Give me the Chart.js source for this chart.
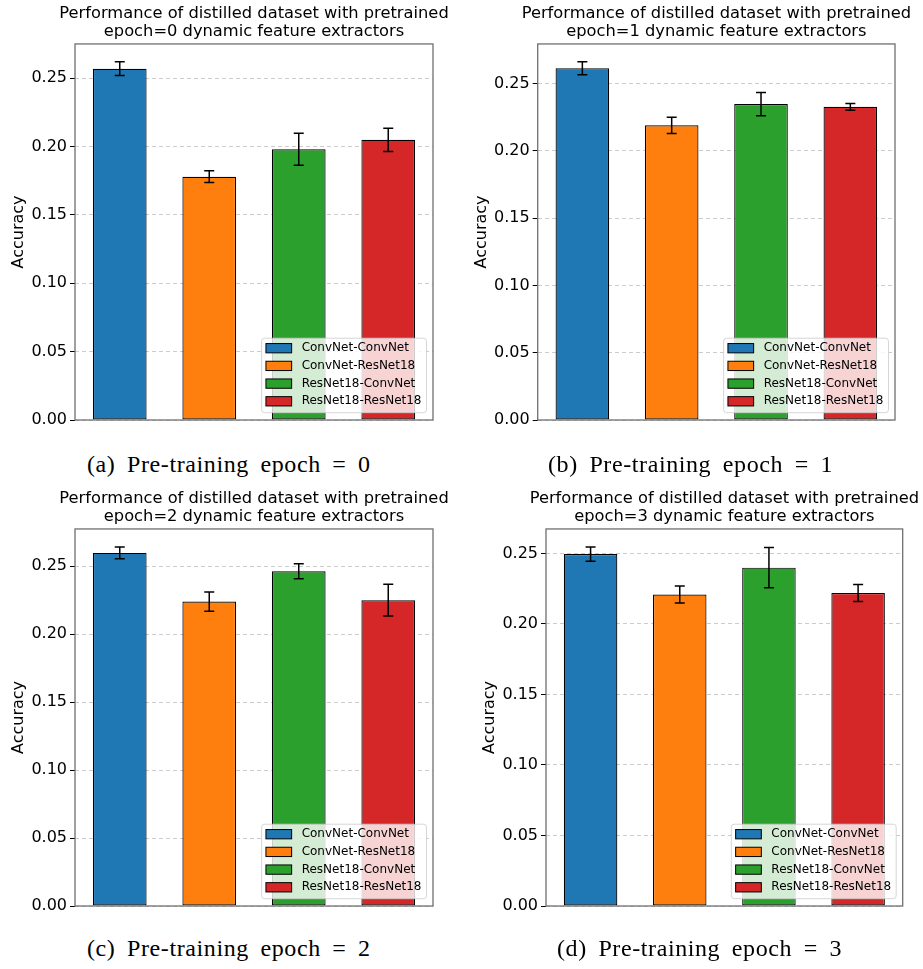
<!DOCTYPE html>
<html><head><meta charset="utf-8">
<script src="https://cdn.jsdelivr.net/npm/chart.js@4.4.1/dist/chart.umd.min.js"></script>
<style>
html,body{margin:0;padding:0;background:#fff;}
body{width:923px;height:969px;position:relative;overflow:hidden;}
canvas{position:absolute;}
.cap{position:absolute;font-family:'Liberation Serif',serif;font-size:24px;line-height:24px;white-space:nowrap;color:#000;letter-spacing:0.6px;word-spacing:5px;}
</style></head><body>
<canvas id="c0" width="462" height="440" style="left:0px;top:0px"></canvas>
<canvas id="c1" width="462" height="440" style="left:461px;top:0px"></canvas>
<canvas id="c2" width="462" height="440" style="left:0px;top:485px"></canvas>
<canvas id="c3" width="462" height="440" style="left:461px;top:485px"></canvas>
<div class="cap" style="left:87px;top:452px">(a) Pre-training epoch = 0</div>
<div class="cap" style="left:548px;top:452px">(b) Pre-training epoch = 1</div>
<div class="cap" style="left:87px;top:936px">(c) Pre-training epoch = 2</div>
<div class="cap" style="left:557px;top:936px">(d) Pre-training epoch = 3</div>
<script>
// ---- data ----
const categories = ['ConvNet-ConvNet', 'ConvNet-ResNet18', 'ResNet18-ConvNet', 'ResNet18-ResNet18'];
const barColors = ['#1f77b4', '#ff7f0e', '#2ca02c', '#d62728'];
const epochs = [0, 1, 2, 3];
const acc0 = [0.257, 0.178, 0.198, 0.205];
const err0 = [0.005, 0.0043, 0.0117, 0.0085];
const acc1 = [0.2614, 0.219, 0.2348, 0.2328];
const err1 = [0.0048, 0.006, 0.0087, 0.0025];
const acc2 = [0.2598, 0.224, 0.2463, 0.225];
const err2 = [0.0044, 0.0071, 0.0055, 0.0117];
const acc3 = [0.2495, 0.2208, 0.2399, 0.2219];
const err3 = [0.0051, 0.006, 0.0143, 0.006];
const yTickLabels = ['0.00', '0.05', '0.10', '0.15', '0.20', '0.25'];
const yLabel = 'Accuracy';

Chart.defaults.font.family = '"DejaVu Sans", sans-serif';
Chart.defaults.color = '#000';

// widen the title box (kept centred over the plot) so its text is not squeezed
const titleWidenPlugin = {
  id: 'titleWiden',
  afterLayout(chart) {
    const t = chart.titleBlock;
    if (t) { t.left -= 80; t.right += 80; t.width = t.right - t.left; }
  }
};

const overlayPlugin = {
  id: 'overlay',
  afterDatasetsDraw(chart, args, opts) {
    const ctx = chart.ctx, ca = chart.chartArea, ys = chart.scales.y;
    const ds = chart.data.datasets[0], meta = chart.getDatasetMeta(0);
    ctx.save();
    // error bars
    ctx.strokeStyle = '#000'; ctx.lineWidth = 1.5; ctx.setLineDash([]);
    meta.data.forEach((bar, i) => {
      const v = ds.data[i], e = opts.errors[i];
      const yt = ys.getPixelForValue(v + e), yb = ys.getPixelForValue(v - e);
      ctx.beginPath();
      ctx.moveTo(bar.x, yt); ctx.lineTo(bar.x, yb);
      ctx.moveTo(bar.x - 5, yt); ctx.lineTo(bar.x + 5, yt);
      ctx.moveTo(bar.x - 5, yb); ctx.lineTo(bar.x + 5, yb);
      ctx.stroke();
    });
    // spines
    ctx.strokeStyle = '#6f6f6f'; ctx.lineWidth = 1.3;
    ctx.strokeRect(ca.left, ca.top, ca.right - ca.left, ca.bottom - ca.top);
    // legend
    ctx.font = '12px "DejaVu Sans"';
    const tw = Math.max(...categories.map(t => ctx.measureText(t).width));
    const boxL = 4.3, boxW = 25.7, boxH = 9.3, gap = 10, pr = 5, rowH = 17.7, pt = 10, pb = 11.4;
    const W = boxL + boxW + gap + tw + pr, H = pt + rowH * (categories.length - 1) + pb;
    const x0 = ca.right - 6.5 - W, y0 = ca.bottom - 7.3 - H;
    ctx.beginPath();
    ctx.roundRect(x0, y0, W, H, 3);
    ctx.fillStyle = 'rgba(255,255,255,0.8)';
    ctx.fill();
    ctx.strokeStyle = 'rgba(204,204,204,0.8)'; ctx.lineWidth = 1;
    ctx.stroke();
    ctx.textBaseline = 'middle'; ctx.textAlign = 'left';
    categories.forEach((t, i) => {
      const cy = y0 + pt + i * rowH;
      ctx.fillStyle = barColors[i];
      ctx.fillRect(x0 + boxL, cy - boxH / 2, boxW, boxH);
      ctx.strokeStyle = '#000'; ctx.lineWidth = 1;
      ctx.strokeRect(x0 + boxL, cy - boxH / 2, boxW, boxH);
      ctx.fillStyle = '#000';
      ctx.fillText(t, x0 + boxL + boxW + gap, cy);
    });
    ctx.restore();
  }
};

function makeChart(id, epoch, vals, errs, geom) {
  const yMax = Math.max(...vals.map((v, i) => v + errs[i])) * 1.05;
  return new Chart(document.getElementById(id), {
    type: 'bar',
    data: {
      labels: categories,
      datasets: [{
        data: vals,
        backgroundColor: barColors,
        borderColor: '#000',
        borderWidth: 1.2,
        borderSkipped: false,
        barPercentage: 0.6,
        categoryPercentage: 1.0
      }]
    },
    options: {
      responsive: false,
      animation: false,
      devicePixelRatio: 1,
      events: [],
      layout: { padding: { left: 0, right: geom.padR, top: 0, bottom: geom.padB } },
      plugins: {
        legend: { display: false },
        tooltip: { enabled: false },
        title: {
          display: true,
          text: ['Performance of distilled dataset with pretrained', 'epoch=' + epoch + ' dynamic feature extractors'],
          fullSize: false,
          font: { size: 16.3, lineHeight: 1.1, weight: 'normal' },
          color: '#000',
          padding: { top: 5, bottom: 3.1 }
        },
        overlay: { errors: errs }
      },
      scales: {
        x: { display: false },
        y: {
          min: 0, max: yMax, bounds: 'data',
          ticks: {
            stepSize: 0.05, includeBounds: false, padding: 3,
            font: { size: 16 }, color: '#000',
            callback: (v) => yTickLabels[Math.round(v / 0.05)]
          },
          grid: { color: 'rgba(0,0,0,0.2)', lineWidth: 1, tickColor: '#000', tickLength: 5, tickWidth: 1, tickBorderDash: [] },
          border: { display: false, dash: [4, 3] },
          title: {
            display: true, text: yLabel, color: '#000',
            font: { size: 16, lineHeight: 1.2 },
            padding: { top: geom.yW - 56 - 9.6, bottom: 0 }
          },
          afterFit: (s) => { s.width = geom.yW; }
        }
      }
    },
    plugins: [titleWidenPlugin, overlayPlugin]
  });
}

makeChart('c0', epochs[0], acc0, err0, { yW: 75, padR: 29, padB: 20 });
makeChart('c1', epochs[1], acc1, err1, { yW: 76.7, padR: 28, padB: 20 });
makeChart('c2', epochs[2], acc2, err2, { yW: 75, padR: 29, padB: 19 });
makeChart('c3', epochs[3], acc3, err3, { yW: 85, padR: 20.3, padB: 19 });
</script>
</body></html>
